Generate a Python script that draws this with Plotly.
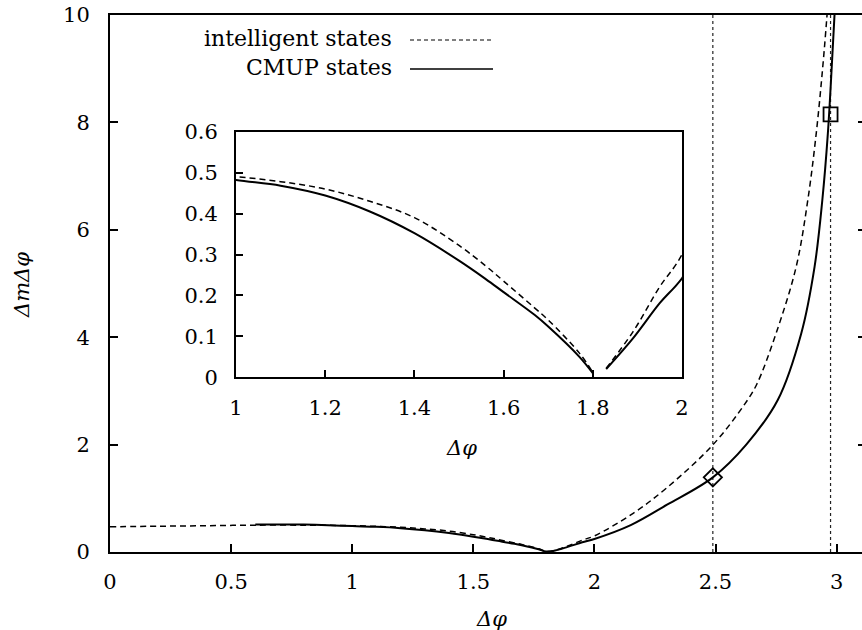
import plotly.graph_objects as go

# ---- data ----
# intelligent states (dashed)
intel_phi_left = [0.0, 0.2, 0.4, 0.6, 0.8, 0.9, 1.0, 1.1, 1.2, 1.3, 1.4, 1.5, 1.56, 1.6, 1.67, 1.7, 1.77, 1.80]
intel_left = [0.47, 0.48, 0.49, 0.50, 0.50, 0.497, 0.490, 0.478, 0.460, 0.430, 0.390, 0.322, 0.272, 0.235, 0.169, 0.140, 0.059, 0.012]
intel_phi_right = [1.83, 1.89, 1.95, 2.0, 2.16, 2.3, 2.49, 2.62, 2.67, 2.75, 2.833, 2.881, 2.916, 2.943, 2.96, 2.97]
intel_right = [0.022, 0.111, 0.221, 0.300, 0.72, 1.20, 2.0, 2.75, 3.12, 4.07, 5.31, 6.55, 7.80, 9.04, 9.97, 10.6]

# CMUP states (solid)
cmup_phi_left = [0.6, 0.8, 0.9, 1.0, 1.1, 1.2, 1.3, 1.4, 1.5, 1.56, 1.6, 1.67, 1.7, 1.77, 1.80]
cmup_left = [0.51, 0.51, 0.50, 0.482, 0.468, 0.444, 0.405, 0.352, 0.285, 0.240, 0.208, 0.152, 0.124, 0.050, 0.010]
cmup_phi_right = [1.83, 1.89, 1.95, 2.0, 2.15, 2.3, 2.489, 2.627, 2.757, 2.854, 2.909, 2.941, 2.964, 2.98, 2.991, 3.0]
cmup_right = [0.020, 0.095, 0.181, 0.242, 0.50, 0.88, 1.39, 2.0, 2.83, 4.07, 5.31, 6.55, 7.80, 9.04, 9.97, 10.6]

# marked points
mark_phi = [2.489, 2.975]
mark_val = [1.39, 8.15]
mark_symbols = ["diamond-open", "square-open"]

main_xticks = [0, 0.5, 1, 1.5, 2, 2.5, 3]
main_yticks = [0, 2, 4, 6, 8, 10]
inset_xticks = [1, 1.2, 1.4, 1.6, 1.8, 2]
inset_yticks = [0, 0.1, 0.2, 0.3, 0.4, 0.5, 0.6]

legend_labels = ["intelligent states", "CMUP states"]

FONT = "DejaVu Serif"
FS = 21
OFF = 0  # body margin removed via post_script
W, H = 870, 630
ML, MR, MT, MB = 110, 4, 15, 78
PW, PH = W - ML - MR, H - MT - MB

def px_x(p):
    return (p - OFF - ML) / PW

def px_y(p):
    return (H - MB - (p - OFF)) / PH

DASH = "6px,4px"
LS = dict(shape="spline", smoothing=1.0)

fig = go.Figure()

# main plot
fig.add_trace(go.Scatter(x=intel_phi_left + intel_phi_right, y=intel_left + intel_right,
                         mode="lines", line=dict(color="black", width=1.5, dash=DASH, **LS),
                         xaxis="x", yaxis="y", showlegend=False))
fig.add_trace(go.Scatter(x=cmup_phi_left + cmup_phi_right, y=cmup_left + cmup_right,
                         mode="lines", line=dict(color="black", width=2, **LS),
                         xaxis="x", yaxis="y", showlegend=False))
for i in range(len(mark_phi)):
    fig.add_trace(go.Scatter(x=[mark_phi[i]], y=[mark_val[i]], mode="markers",
                             marker=dict(symbol=mark_symbols[i], size=14, color="black",
                                         line=dict(color="black", width=1.8)),
                             xaxis="x", yaxis="y", showlegend=False, cliponaxis=False))

# inset
fig.add_trace(go.Scatter(x=intel_phi_left, y=intel_left, mode="lines",
                         line=dict(color="black", width=1.5, dash=DASH, **LS),
                         xaxis="x2", yaxis="y2", showlegend=False))
fig.add_trace(go.Scatter(x=intel_phi_right, y=intel_right, mode="lines",
                         line=dict(color="black", width=1.5, dash=DASH, **LS),
                         xaxis="x2", yaxis="y2", showlegend=False))
fig.add_trace(go.Scatter(x=cmup_phi_left, y=cmup_left, mode="lines",
                         line=dict(color="black", width=2, **LS),
                         xaxis="x2", yaxis="y2", showlegend=False))
fig.add_trace(go.Scatter(x=cmup_phi_right, y=cmup_right, mode="lines",
                         line=dict(color="black", width=2, **LS),
                         xaxis="x2", yaxis="y2", showlegend=False))

shapes = []
for xv in mark_phi:
    shapes.append(dict(type="line", xref="x", yref="y", x0=xv, x1=xv, y0=0, y1=10,
                       line=dict(color="#222", width=1.2, dash="dot"), layer="below"))

# legend (text on the left, line sample on the right)
annotations = []
leg_rows = [39, 68]
leg_dash = ["4px,3px", "solid"]
leg_w = [1.2, 1.6]
for i, lab in enumerate(legend_labels):
    annotations.append(dict(text=lab, xref="paper", yref="paper", x=px_x(394), y=px_y(leg_rows[i]),
                            xanchor="right", yanchor="middle", showarrow=False,
                            font=dict(family=FONT, size=FS + 1, color="black")))
    shapes.append(dict(type="line", xref="paper", yref="paper", x0=px_x(410), x1=px_x(493),
                       y0=px_y(leg_rows[i] + 1), y1=px_y(leg_rows[i] + 1),
                       line=dict(color="black", width=leg_w[i], dash=leg_dash[i])))

# axis titles
annotations.append(dict(text="<i>Δφ</i>", xref="paper", yref="paper", x=px_x(491), y=px_y(619),
                        xanchor="center", yanchor="middle", showarrow=False,
                        font=dict(family=FONT, size=FS, color="black")))
annotations.append(dict(text="<i>ΔmΔφ</i>", xref="paper", yref="paper", x=px_x(22), y=px_y(285),
                        xanchor="center", yanchor="middle", showarrow=False, textangle=-90,
                        font=dict(family=FONT, size=FS, color="black")))
annotations.append(dict(text="<i>Δφ</i>", xref="paper", yref="paper", x=px_x(461), y=px_y(448),
                        xanchor="center", yanchor="middle", showarrow=False,
                        font=dict(family=FONT, size=FS, color="black")))

axis_common = dict(showgrid=False, zeroline=False, showline=True, linecolor="black", linewidth=2,
                   ticks="inside", tickcolor="black", tickwidth=1.5, automargin=False,
                   ticklabeloverflow="allow",
                   tickfont=dict(family=FONT, size=FS, color="black"))

ins_x0, ins_x1 = px_x(236), px_x(682)
ins_y0, ins_y1 = px_y(377.3), px_y(131.7)

fig.update_layout(
    width=W, height=H,
    margin=dict(l=ML, r=MR, t=MT, b=MB, autoexpand=False),
    paper_bgcolor="white", plot_bgcolor="white",
    showlegend=False,
    xaxis=dict(domain=[0, 1], range=[0, PW / 242.2], tickvals=main_xticks, ticklen=8,
               mirror=True, ticklabelstandoff=10, anchor="y", **axis_common),
    yaxis=dict(domain=[0, 1], range=[0, 10], tickvals=main_yticks, ticklen=8,
               mirror="ticks", ticklabelstandoff=14, anchor="x", **axis_common),
    xaxis2=dict(domain=[ins_x0, ins_x1], range=[1, 2], tickvals=inset_xticks, ticklen=7,
                mirror=True, ticklabelstandoff=10, anchor="y2", **axis_common),
    yaxis2=dict(domain=[ins_y0, ins_y1], range=[0, 0.6], tickvals=inset_yticks, ticklen=7,
                mirror=True, ticklabelstandoff=12, anchor="x2", **axis_common),
    shapes=shapes,
    annotations=annotations,
)

fig.write_html("out.html", config={"displayModeBar": False},
               post_script="document.body.style.margin='0';document.body.style.overflow='hidden';")
